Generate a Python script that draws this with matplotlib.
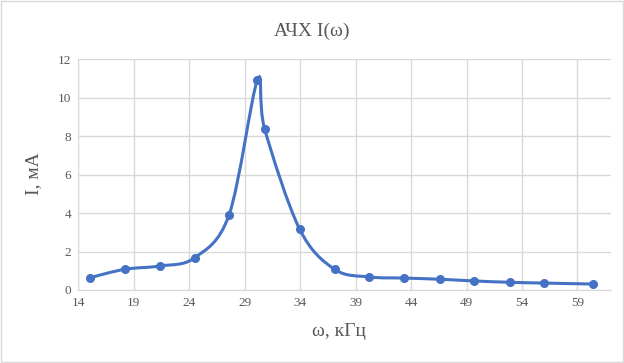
import numpy as np
import matplotlib
matplotlib.use("Agg")
from matplotlib import pyplot as plt
from matplotlib.path import Path
from matplotlib.patches import PathPatch, Rectangle

# measured points of the frequency response
omega = [15.05, 18.2, 21.4, 24.5, 27.6, 30.15, 30.8, 33.95, 37.1,
         40.25, 43.4, 46.6, 49.7, 52.9, 56.0, 60.4]
current = [0.64, 1.08, 1.25, 1.68, 3.92, 10.93, 8.38, 3.17, 1.08,
           0.68, 0.62, 0.56, 0.47, 0.40, 0.36, 0.31]

x_ticks = [14, 19, 24, 29, 34, 39, 44, 49, 54, 59]
y_ticks = [0, 2, 4, 6, 8, 10, 12]

blue = "#4472C4"
grey_text = "#595959"
plt.rcParams['font.family'] = ['Liberation Serif', 'DejaVu Serif']

fig = plt.figure(figsize=(6.24, 3.63), dpi=100)
fig.patches.append(Rectangle((0.002, 0.003), 0.996, 0.994, transform=fig.transFigure,
                             fill=False, edgecolor="#D9D9D9", linewidth=1))
ax = fig.add_axes([78.3/624, 1 - 290/363, (610.7 - 78.3)/624, (290 - 59.3)/363])

# smooth line like Excel: Catmull-Rom segments drawn as cubic Bezier curves
pts = np.column_stack([omega, current])
verts = [pts[0]]
codes = [Path.MOVETO]
n = len(pts)
for i in range(n - 1):
    p0 = pts[max(i - 1, 0)]
    p1 = pts[i]
    p2 = pts[i + 1]
    p3 = pts[min(i + 2, n - 1)]
    verts += [p1 + (p2 - p0) / 6, p2 - (p3 - p1) / 6, p2]
    codes += [Path.CURVE4] * 3
ax.add_patch(PathPatch(Path(verts, codes), facecolor="none", edgecolor=blue,
                       linewidth=2.2, zorder=3))
ax.plot(omega, current, linestyle="none", marker="o", markersize=5.5,
        color=blue, zorder=4)

ax.set_xlim(14, 62)
ax.set_ylim(0, 12)
ax.set_xticks(x_ticks)
ax.set_yticks(y_ticks)
ax.grid(True, color="#D9D9D9", linewidth=1)
ax.set_axisbelow(True)
for s in ["top", "right"]:
    ax.spines[s].set_visible(False)
for s in ["left", "bottom"]:
    ax.spines[s].set_color("#D9D9D9")
ax.tick_params(length=0, labelsize=9.5, colors=grey_text, pad=5)

fig.text(312/624, 1 - 31/363, "АЧХ I(ω)", ha="center", va="center",
         fontsize=14, color=grey_text)
fig.text(339/624, 1 - 331/363, "ω, кГц", ha="center", va="center",
         fontsize=14, color=grey_text)
fig.text(34/624, 1 - 174/363, "I, мА", ha="center", va="center",
         fontsize=14, color=grey_text, rotation=90)

fig.savefig("out.png", dpi=100)
